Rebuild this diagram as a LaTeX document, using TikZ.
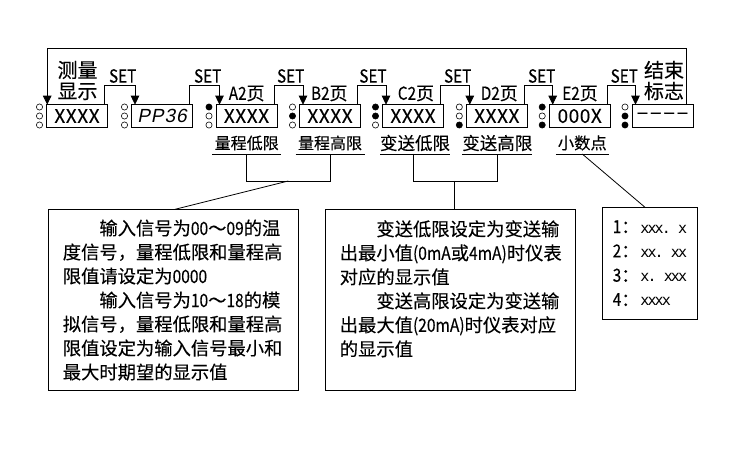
\documentclass[tikz,border=0pt]{standalone}
\usepackage{fontspec}
\setmainfont[FakeBold=0.2]{Noto Sans CJK SC}
\newfontfamily\narrowfont[FakeStretch=0.85,FakeBold=0.2]{Noto Sans CJK SC}
\newfontfamily\dispfont[LetterSpace=3,FakeBold=0.2]{Noto Sans CJK SC}
\newfontfamily\segfont[FakeSlant=0.2,LetterSpace=5]{Liberation Sans}
\newfontfamily\valfont[LetterSpace=-12]{DejaVu Sans Mono}
\newcommand{\nw}[1]{{\narrowfont #1}}
\usetikzlibrary{calc, positioning, arrows.meta}

\begin{document}
\begin{tikzpicture}[
    >={Stealth[length=9pt,width=8.5pt,inset=0pt]},
    x=1pt, y=-1pt,
    line width=0.8pt,
    outer sep=0pt,
    display/.style={draw, minimum width=61pt, minimum height=22.6pt, inner sep=0pt, font=\fontsize{19}{19}\selectfont\dispfont},
    led/.style={draw, circle, inner sep=0pt, minimum size=6.2pt, line width=0.6pt},
    setlabel/.style={inner sep=0pt, font=\fontsize{18}{18}\selectfont\narrowfont},
    pagelabel/.style={inner sep=0pt, font=\fontsize{18}{18}\selectfont},
    titlelabel/.style={inner sep=0pt, align=center, font=\fontsize{20}{21}\selectfont},
    rangelabel/.style={inner sep=0pt, minimum height=22pt},
    notebox/.style={draw, anchor=north west, inner xsep=14.5pt, inner ysep=0pt, minimum height=181.5pt, text width=221.5pt, align=left, font=\fontsize{18.3}{24}\selectfont}
]
    \useasboundingbox (0,0) rectangle (750,449);

    % Display Boxes
    \foreach \name/\xc/\txt in {d1/77/XXXX, d3/246.5/XXXX, d4/330/XXXX, d5/413/XXXX, d6/496.8/XXXX, d7/579.7/000X}
        \node[display] (\name) at (\xc,116) {\txt};
    \node[display] (d2) at (162,116) {\fontsize{19}{19}\segfont PP36};
    \node[display] (d8) at (662.5,116) {\fontsize{22}{22}\selectfont –\kern1.5pt–\kern1.5pt–\kern1.5pt–};

    % Indicator Lamps (Left of Each Box)
    \foreach \name/\ta/\tb/\tc in {d1/white/white/white, d2/white/white/white, d3/black/white/white, d4/white/black/white,
                                d5/black/black/white, d6/white/white/black, d7/black/white/black, d8/white/black/black} {
        \node[led, fill=\ta] (\name-a) at ($(\name.west)+(-7,-9)$) {};
        \node[led, fill=\tb] (\name-b) at ($(\name.west)+(-7,0)$) {};
        \node[led, fill=\tc] (\name-c) at ($(\name.west)+(-7,9)$) {};
    }

    % SET Connectors (Box to Next Box)
    \foreach \from/\to/\xs in {d1/d2/122.7, d2/d3/207.7, d3/d4/290.7, d4/d5/373, d5/d6/457.7, d6/d7/541.7, d7/d8/624.3} {
        \draw[->] ($(\from.north east)+(-3,0)$) -- ++(0,-19) -| ($(\to.north west)+(3.5,0)$);
        \node[setlabel] (set-\from) at (\xs,76) {SET};
    }

    % Return Line (Top)
    \draw[->] ($(d8.north east)+(-6.5,0)$) -- ++(0,-56.4) -| ($(d1.north west)+(0.7,0)$);

    % Page Labels
    \node[titlelabel] (measure) at (77.5,80.5) {测量\\显示};
    \node[titlelabel] (finish) at (664,80.5) {结束\\标志};
    \foreach \name/\xc/\txt in {pa/246.7/A2, pb/329.3/B2, pc/416/C2, pd/499.3/D2, pe/580/E2}
        \node[pagelabel] (\name) at (\xc,93.5) {\nw{\txt}页};

    % Range Labels (Underlined)
    \foreach \name/\xc/\lw/\fs/\txt in {la/246.7/69/16/量程低限, lb/330/69/16/量程高限, lc/415/70/17.5/变送低限, ld/497.3/70/17.5/变送高限, le/582.3/53/16.3/小数点} {
        \node[rangelabel, minimum width=\lw pt] (\name) at (\xc,143) {\fontsize{\fs}{\fs}\selectfont\txt};
        \draw (\name.south west) -- (\name.south east);
    }

    % Notes
    \node[notebox] (note1) at (48.3,209.3) {\hspace*{36.6pt}输入信号为\nw{00}～\nw{09}的温\\度信号，量程低限和量程高\\限值请设定为\nw{0000}\\\hspace*{36.6pt}输入信号为\nw{10}～\nw{18}的模\\拟信号，量程低限和量程高\\限值设定为输入信号最小和\\最大时期望的显示值};
    \node[notebox] (note2) at (325.3,209.3) {\hspace*{36.6pt}变送低限设定为变送输\\出最小值\nw{(0mA}或\nw{4mA)}时仪表\\对应的显示值\\\hspace*{36.6pt}变送高限设定为变送输\\出最大值\nw{(20mA)}时仪表对应\\的显示值\\~};
    \node[draw, anchor=north west, inner xsep=7.5pt, inner ysep=0pt, minimum width=95.4pt, minimum height=111.7pt, align=left, font=\fontsize{18}{24.3}\selectfont] (note3) at (602.3,207.3)
        {\makebox[27.5pt][l]{\nw{1}：}{\fontsize{15}{24.3}\valfont xxx.\ x}\\\makebox[27.5pt][l]{\nw{2}：}{\fontsize{15}{24.3}\valfont xx.\ xx}\\\makebox[27.5pt][l]{\nw{3}：}{\fontsize{15}{24.3}\valfont x.\ xxx}\\\makebox[27.5pt][l]{\nw{4}：}{\fontsize{15}{24.3}\valfont xxxx}};

    % Brackets to Notes
    \coordinate (bra) at ($(la.south)+(0,27)$);
    \coordinate (brb) at ($(lc.south)+(-1.5,27)$);
    \draw (la.south) -- (bra) -- (bra -| lb.south) -- (lb.south);
    \draw ($(lc.south)+(-1.5,0)$) -- (brb) -- (brb -| ld.south) -- (ld.south);
    \draw (288.3,181) -- ($(note1.north west)+(126.7,0)$);
    \draw (454.7,181) -- (454.7,209.3);
    \draw (le.south) -- ($(note3.north west)+(42.7,0)$);

\end{tikzpicture}
\end{document}
